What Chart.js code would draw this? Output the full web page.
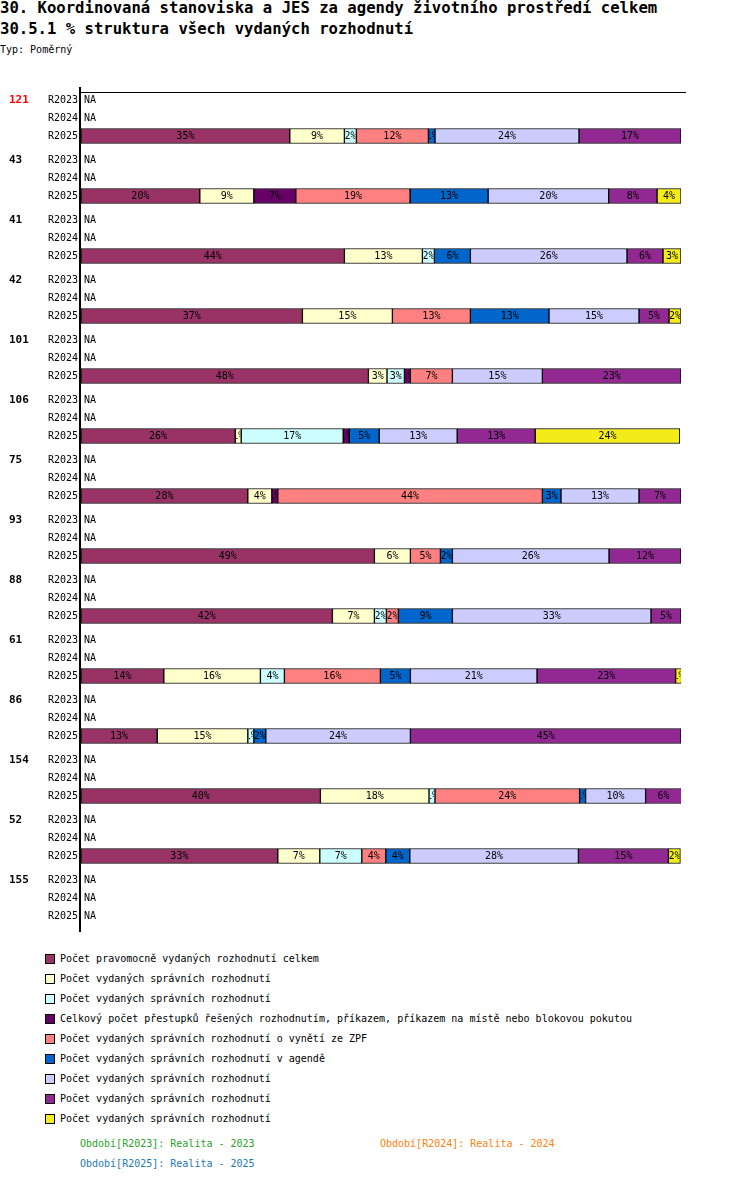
<!DOCTYPE html>
<html>
<head>
<meta charset="utf-8">
<script src="https://cdn.jsdelivr.net/npm/chart.js@4/dist/chart.umd.min.js"></script>
<style>
  body { margin: 0; background: #fff; font-family: "DejaVu Sans Mono", monospace; color: #000; }
  #wrap { position: relative; width: 750px; height: 1202px; overflow: hidden; }
  .txt { position: absolute; white-space: pre; }
  .ttl { font-size: 15.6px; line-height: 16px; font-weight: bold; }
  #chart { position: absolute; left: 0; top: 0; }
  .leg { position: absolute; left: 45px; font-size: 10px; line-height: 12px; height: 12px; }
  .leg i { position: absolute; left: 0; top: 1px; width: 8px; height: 8px; border: 1px solid #000; }
  .leg span { position: absolute; left: 15px; top: 0; white-space: pre; }
  .foot { font-size: 10px; line-height: 12px; }
</style>
</head>
<body>
<div id="wrap">
  <div class="txt ttl" style="left:0;top:0;">30. Koordinovaná stanoviska a JES za agendy životního prostředí celkem</div>
  <div class="txt ttl" style="left:0;top:21px;">30.5.1 % struktura všech vydaných rozhodnutí</div>
  <div class="txt" style="left:0;top:44px;font-size:10px;line-height:12px;">Typ: Poměrný</div>
  <canvas id="chart" width="750" height="940"></canvas>
  <div id="legend"></div>
  <div class="txt foot" style="left:80px;top:1138px;color:#2ca02c;">Období[R2023]: Realita - 2023</div>
  <div class="txt foot" style="left:380px;top:1138px;color:#ff7f0e;">Období[R2024]: Realita - 2024</div>
  <div class="txt foot" style="left:80px;top:1158px;color:#1f77b4;">Období[R2025]: Realita - 2025</div>
</div>
<script>
// groups (y-axis), periods inside each group
const groups = ["121", "43", "41", "42", "101", "106", "75", "93", "88", "61", "86", "154", "52", "155"];
const periods = ["R2023", "R2024", "R2025"];

const seriesNames = [
  "Počet pravomocně vydaných rozhodnutí celkem",
  "Počet vydaných správních rozhodnutí",
  "Počet vydaných správních rozhodnutí",
  "Celkový počet přestupků řešených rozhodnutím, příkazem, příkazem na místě nebo blokovou pokutou",
  "Počet vydaných správních rozhodnutí o vynětí ze ZPF",
  "Počet vydaných správních rozhodnutí v agendě",
  "Počet vydaných správních rozhodnutí",
  "Počet vydaných správních rozhodnutí",
  "Počet vydaných správních rozhodnutí"
];
const seriesColors = ["#993366", "#ffffcc", "#ccffff", "#660066", "#ff8080", "#0066cc", "#ccccff", "#922892", "#f3ec19"];

// R2025 shares (%) per group; null = NA. R2023 and R2024 are NA everywhere.
const s1 = [34.8, 19.8, 43.9, 36.9, 47.9, 25.7, 27.8, 48.9, 41.9, 13.8, 12.7, 39.9, 32.8, null];
const s2 = [9.1, 9.0, 13.0, 15.0, 3.1, 1.0, 4.0, 6.0, 7.0, 16.1, 15.1, 18.1, 7.0, null];
const s3 = [2.0, 0, 2.0, 0, 2.9, 17.0, 0, 0, 2.0, 4.0, 1.0, 1.0, 7.0, null];
const s4 = [0, 7.0, 0, 0, 1.0, 1.0, 1.0, 0, 0, 0, 0, 0, 0, null];
const s5 = [12.0, 19.05, 0, 13.0, 7.0, 0, 44.1, 5.0, 2.0, 16.0, 0, 24.1, 4.0, null];
const s6 = [1.1, 13.0, 6.0, 13.1, 0, 5.0, 3.1, 2.0, 9.0, 5.0, 2.0, 1.0, 4.0, null];
const s7 = [24.0, 20.1, 26.1, 15.0, 15.0, 13.0, 13.0, 26.1, 33.1, 21.1, 24.1, 10.0, 28.1, null];
const s8 = [17.0, 8.06, 6.0, 5.0, 23.1, 13.0, 7.0, 12.0, 5.0, 23.1, 45.1, 6.0, 15.0, null];
const s9 = [0, 4.0, 3.0, 2.0, 0, 24.1, 0, 0, 0, 1.0, 0, 0, 2.0, null];
const series2025 = [s1, s2, s3, s4, s5, s6, s7, s8, s9];

const ROW = 18, GROUP = 60;   // vertical spacing (y units = px)
const rowPos = (gi, ri) => gi * GROUP + ri * ROW;
const highlight = "121";

// legend
const legend = document.getElementById("legend");
seriesNames.forEach((name, i) => {
  const d = document.createElement("div");
  d.className = "leg";
  d.style.top = (953 + i * 20) + "px";
  d.innerHTML = '<i style="background:' + seriesColors[i] + '"></i><span></span>';
  d.querySelector("span").textContent = name;
  legend.appendChild(d);
});

const datasets = series2025.map((vals, si) => ({
  label: seriesNames[si],
  backgroundColor: seriesColors[si],
  borderColor: "#000",
  borderWidth: 1,
  borderSkipped: false,
  barThickness: 15,
  data: vals.map((v, gi) => ({ x: v ? v : null, y: rowPos(gi, 2) }))
}));

const hasData = (gi, ri) => ri === 2 && series2025.some(s => s[gi]);

const overlay = {
  id: "overlay",
  afterDatasetsDraw(chart) {
    const ctx = chart.ctx;
    const ys = chart.scales.y;
    const area = chart.chartArea;
    ctx.save();
    ctx.textBaseline = "middle";
    ctx.fillStyle = "#000";
    ctx.font = "10px 'DejaVu Sans Mono'";
    // segment labels, clipped to their bar
    chart.data.datasets.forEach((ds, di) => {
      chart.getDatasetMeta(di).data.forEach((bar, i) => {
        const v = ds.data[i].x;
        if (!v) return;
        const l = Math.min(bar.x, bar.base), r = Math.max(bar.x, bar.base);
        ctx.save();
        ctx.beginPath();
        ctx.rect(l + 1, bar.y - 7, r - l - 2, 14);
        ctx.clip();
        ctx.textAlign = "center";
        ctx.fillText(Math.round(v) + "%", (l + r) / 2, bar.y + 0.5);
        ctx.restore();
      });
    });
    // row labels, group labels, NA
    groups.forEach((g, gi) => {
      periods.forEach((p, ri) => {
        const y = ys.getPixelForValue(rowPos(gi, ri)) + 0.5;
        ctx.font = "10px 'DejaVu Sans Mono'";
        ctx.fillStyle = "#000";
        ctx.textAlign = "right";
        ctx.fillText(p, 78, y);
        if (!hasData(gi, ri)) {
          ctx.textAlign = "left";
          ctx.fillText("NA", 84, y);
        }
        if (ri === 0) {
          ctx.font = "bold 11px 'DejaVu Sans Mono'";
          ctx.fillStyle = g === highlight ? "#ff0000" : "#000";
          ctx.textAlign = "left";
          ctx.fillText(g, 9, y);
        }
      });
    });
    // axis lines
    ctx.strokeStyle = "#000";
    ctx.lineWidth = 1;
    ctx.beginPath();
    ctx.moveTo(80, area.top + 0.5);
    ctx.lineTo(686, area.top + 0.5);
    ctx.stroke();
    ctx.lineWidth = 2;
    ctx.beginPath();
    ctx.moveTo(80, 87);
    ctx.lineTo(80, 932);
    ctx.stroke();
    ctx.restore();
  }
};

new Chart(document.getElementById("chart"), {
  type: "bar",
  data: { datasets },
  options: {
    indexAxis: "y",
    responsive: false,
    animation: false,
    layout: { padding: { left: 81, right: 69, top: 92, bottom: 10 } },
    scales: {
      x: { type: "linear", min: 0, max: 100, stacked: true, display: false },
      y: { type: "linear", offset: false, min: -8, max: rowPos(groups.length - 1, 2) + 14, reverse: true, stacked: true, display: false }
    },
    plugins: { legend: { display: false }, tooltip: { enabled: false } }
  },
  plugins: [overlay]
});
</script>
</body>
</html>
